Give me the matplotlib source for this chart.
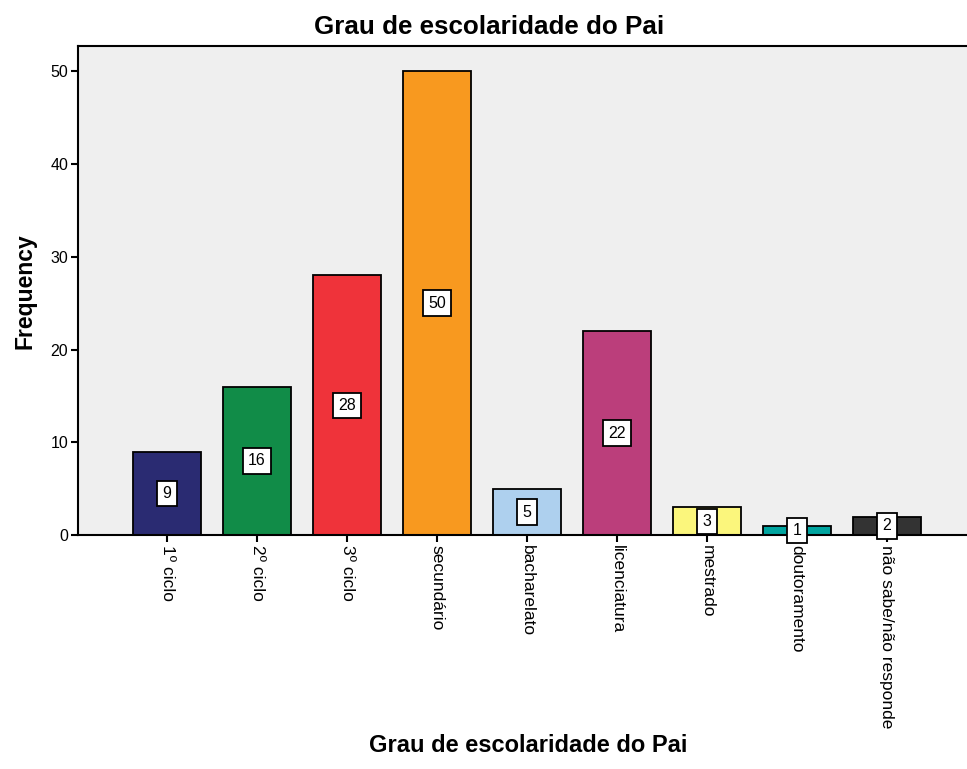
import matplotlib
matplotlib.use("Agg")
import matplotlib.pyplot as plt

plt.rcParams['font.family'] = ['Liberation Sans', 'DejaVu Sans']

# Frequency table for "Grau de escolaridade do Pai"
categories = ["1º ciclo", "2º ciclo", "3º ciclo", "secundário", "bacharelato",
              "licenciatura", "mestrado", "doutoramento", "não sabe/não responde"]
counts = [9, 16, 28, 50, 5, 22, 3, 1, 2]
colors = ["#2A2B72", "#118C48", "#EF333A", "#F8991F", "#AED0EE",
          "#BB3E7B", "#FBF67C", "#00A49F", "#333333"]

fig = plt.figure(figsize=(9.67, 7.69), dpi=100)
ax = fig.add_axes([0.0807, 0.304, 0.9193, 0.636])
ax.set_facecolor("#EFEFEF")

x = list(range(len(categories)))
bars = ax.bar(x, counts, width=0.75, color=colors, edgecolor="black", linewidth=1.3, zorder=2)

# value labels in white boxes at mid height
for xi, v in zip(x, counts):
    ax.text(xi, v / 2, str(v), ha="center", va="center", fontsize=11.5, zorder=3,
            bbox=dict(boxstyle="square,pad=0.33", facecolor="white", edgecolor="black", linewidth=1.3))

ax.set_xlim(-0.99, 8.89)
ax.set_ylim(0, 52.7)
ax.set_yticks([0, 10, 20, 30, 40, 50])
ax.set_xticks(x)
ax.set_xticklabels(categories, rotation=-90, ha="center", va="top", fontsize=12.5)
ax.tick_params(axis="y", labelsize=11.5, length=5, width=1.5, pad=2)
ax.tick_params(axis="x", length=5, width=1.5, pad=2)

for s in ["left", "bottom", "top"]:
    ax.spines[s].set_linewidth(1.5)
ax.spines["right"].set_visible(False)

fig.text(0.506, 0.965, "Grau de escolaridade do Pai", ha="center", va="center",
         fontsize=18.7, fontweight="bold")
ax.set_ylabel("Frequency", fontsize=16.5, fontweight="bold", labelpad=10)
fig.text(0.546, 0.015, "Grau de escolaridade do Pai", ha="center", va="bottom",
         fontsize=17, fontweight="bold")

fig.savefig("out.png", dpi=100)
